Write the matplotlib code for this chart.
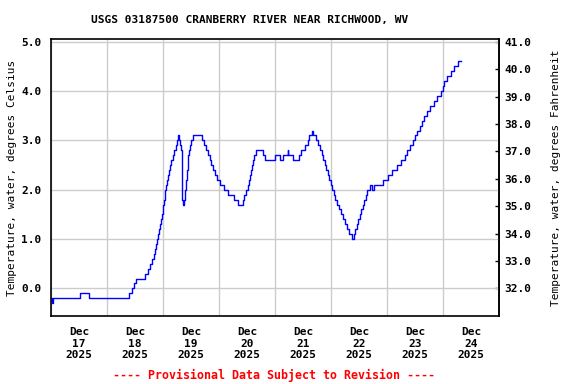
import matplotlib
matplotlib.use("Agg")
import matplotlib.pyplot as plt
import matplotlib.dates as mdates
import pandas as pd

# hours since 2025-12-17 00:00 and the reading that starts at that hour (deg C)
hours = [0, 0.5, 1.0, 12.3, 16.1, 33.3, 34.6, 35.7, 36.4, 37.8, 40.4, 41.4, 42.4,
         43.3, 44.0, 44.6, 45.0, 45.4, 45.7, 46.1, 46.6, 47.0, 47.4, 47.8, 48.2,
         48.5, 48.8, 49.0, 49.4, 49.8, 50.2, 50.6, 51.1, 51.6, 52.2, 52.8, 53.4,
         54.0, 54.6, 55.0, 55.4, 55.8, 56.0, 56.2, 56.5, 57.0, 57.3, 57.6, 57.9,
         58.2, 58.5, 58.9, 59.3, 59.7, 60.2, 60.7, 64.9, 65.6, 66.4, 67.2, 68.0,
         68.6, 69.3, 70.2, 71.2, 72.3, 74.0, 76.0, 78.4, 80.3, 82.1, 82.9, 83.7,
         84.4, 84.9, 85.3, 85.7, 86.1, 86.6, 87.2, 87.9, 90.7, 91.6, 95.8, 98.1,
         99.3, 101.4, 101.7, 103.9, 106.1, 107.1, 108.9, 110.0, 110.7, 111.7,
         112.1, 113.6, 114.6, 115.3, 116.0, 116.6, 117.3, 117.9, 118.6, 119.3,
         120.0, 120.5, 121.2, 121.9, 122.6, 123.4, 124.2, 125.0, 125.8, 126.8,
         127.9, 128.8, 129.7, 130.4, 131.0, 131.6, 132.3, 133.0, 133.6, 134.2,
         134.8, 135.3, 136.5, 137.7, 138.3, 142.2, 144.3, 146.1, 148.3, 150.2,
         151.5, 152.7, 153.9, 155.0, 156.0, 157.0, 158.0, 159.0, 160.0, 161.0,
         162.6, 164.0, 165.4, 167.1, 167.8, 168.4, 169.7, 171.4, 172.9, 174.3,
         175.7]
temp_c = [-0.2, -0.3, -0.2, -0.1, -0.2, -0.1, 0.0, 0.1, 0.2, 0.2, 0.3, 0.4, 0.5,
          0.6, 0.7, 0.8, 0.9, 1.0, 1.1, 1.2, 1.3, 1.4, 1.5, 1.6, 1.7,
          1.8, 1.9, 2.0, 2.1, 2.2, 2.3, 2.4, 2.5, 2.6, 2.7, 2.8, 2.9,
          3.0, 3.1, 3.0, 2.9, 2.8, 2.3, 1.8, 1.7, 1.8, 1.9, 2.0, 2.2,
          2.4, 2.6, 2.7, 2.8, 2.9, 3.0, 3.1, 3.0, 2.9, 2.8, 2.7, 2.6,
          2.5, 2.4, 2.3, 2.2, 2.1, 2.0, 1.9, 1.8, 1.7, 1.8, 1.9, 2.0,
          2.1, 2.2, 2.3, 2.4, 2.5, 2.6, 2.7, 2.8, 2.7, 2.6, 2.7, 2.6,
          2.7, 2.8, 2.7, 2.6, 2.7, 2.8, 2.9, 3.0, 3.1, 3.2,
          3.1, 3.0, 2.9, 2.8, 2.7, 2.6, 2.5, 2.4, 2.3, 2.2,
          2.1, 2.0, 1.9, 1.8, 1.7, 1.6, 1.5, 1.4, 1.3, 1.2,
          1.1, 1.0, 1.1, 1.2, 1.3, 1.4, 1.5, 1.6, 1.7, 1.8,
          1.9, 2.0, 2.1, 2.0, 2.1, 2.2, 2.3, 2.4, 2.5, 2.6,
          2.7, 2.8, 2.9, 3.0, 3.1, 3.2, 3.3, 3.4, 3.5, 3.6,
          3.7, 3.8, 3.9, 4.0, 4.1, 4.2, 4.3, 4.4, 4.5, 4.6,
          4.6]

c_ticks = [0.0, 1.0, 2.0, 3.0, 4.0, 5.0]
f_ticks = [32.0, 33.0, 34.0, 35.0, 36.0, 37.0, 38.0, 39.0, 40.0, 41.0]

title = "USGS 03187500 CRANBERRY RIVER NEAR RICHWOOD, WV"
footer = "---- Provisional Data Subject to Revision ----"

start = pd.Timestamp("2025-12-17 00:00")
times = start + pd.to_timedelta(hours, unit="h")

plt.rcParams['font.family'] = 'DejaVu Sans Mono'
plt.rcParams['font.weight'] = 'bold'
plt.rcParams['font.size'] = 8

fig = plt.figure(figsize=(5.76, 3.84), dpi=100)
ax = fig.add_axes([51 / 576, 1 - 316 / 384, 448 / 576, 276.7 / 384])

ax.plot(times, temp_c, color='#0000ff', lw=1.0, drawstyle='steps-post')

ax.set_xlim(start, start + pd.Timedelta(days=8))
ax.set_ylim(-0.56, 5.05)
ax.set_yticks(c_ticks)
ax.set_yticklabels(["%.1f" % v for v in c_ticks])

ax.xaxis.set_major_locator(mdates.HourLocator(byhour=12))
ax.xaxis.set_major_formatter(mdates.DateFormatter("%b\n%d\n%Y"))
ax.xaxis.set_minor_locator(mdates.DayLocator())

ax.grid(True, axis='y', color='#cccccc', lw=1.0)
ax.grid(True, axis='x', which='minor', color='#cccccc', lw=1.0)
ax.set_axisbelow(True)
ax.tick_params(axis='both', which='both', length=0)
ax.tick_params(axis='x', pad=8)
ax.tick_params(axis='y', pad=7)
for s in ax.spines.values():
    s.set_linewidth(1.2)

ax.set_ylabel("Temperature, water, degrees Celsius", labelpad=3)

sec = ax.secondary_yaxis('right', functions=(lambda c: c * 9 / 5 + 32,
                                              lambda f: (f - 32) * 5 / 9))
sec.set_yticks(f_ticks)
sec.set_yticklabels(["%.1f" % v for v in f_ticks])
sec.tick_params(direction='in', length=3, pad=4, width=1)
sec.spines['right'].set_linewidth(1.2)
sec.set_ylabel("Temperature, water, degrees Fahrenheit", labelpad=14)

fig.text(250 / 576, 1 - 20 / 384, title, ha='center', va='center', fontsize=8)
fig.text(274 / 576, 1 - 375 / 384, footer, ha='center', va='center',
         color='red', fontsize=8.4)

fig.savefig("out.png", dpi=100)
